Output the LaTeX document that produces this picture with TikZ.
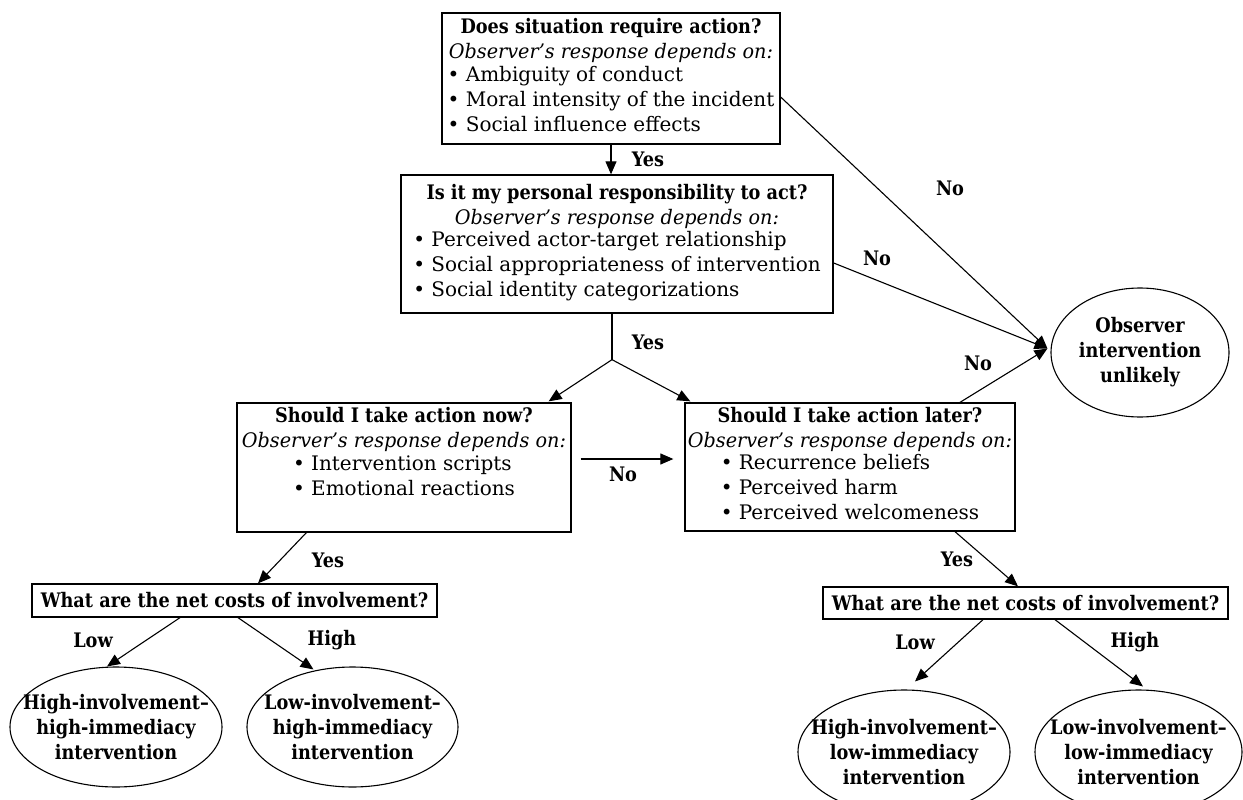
\documentclass[tikz,border=0pt]{standalone}
\usepackage{fontspec}
\setmainfont{DejaVu Serif}[BoldFeatures={FakeStretch=0.885},ItalicFeatures={FakeStretch=0.96}]
\usetikzlibrary{arrows.meta,shapes.geometric,calc}
\begin{document}
\begin{tikzpicture}[x=1pt,y=-1pt,
  every node/.style={font=\fontsize{20}{25}\selectfont},
  box/.style={draw, line width=1.3pt, inner sep=0pt, align=center},
  oval/.style={draw, ellipse, line width=1.1pt, inner xsep=-30pt, inner ysep=0pt, align=center, font=\fontsize{20}{25}\selectfont\bfseries},
  lbl/.style={font=\fontsize{20}{25}\selectfont\bfseries, inner sep=0pt},
  arr/.style={line width=1.1pt, -{Triangle[length=13pt,width=11pt]}},
  ln/.style={line width=1.1pt}]
\useasboundingbox (0,0) rectangle (1243,800);
\clip (0,0) rectangle (1243,800);

% question boxes
\node[box, minimum width=338pt, minimum height=131pt] (q1) at (611,78.5)
  {\textbf{Does situation require action?}\\
   \textit{Observer’s response depends on:}\\
   \begin{tabular}{@{}l@{}}• Ambiguity of conduct\\ • Moral intensity of the incident\\ • Social influence effects\end{tabular}};
\node[box, minimum width=432pt, minimum height=138pt] (q2) at (617,244)
  {\textbf{Is it my personal responsibility to act?}\\
   \textit{Observer’s response depends on:}\\
   \begin{tabular}{@{}l@{}}• Perceived actor-target relationship\\ • Social appropriateness of intervention\\ • Social identity categorizations\end{tabular}};
\node[box, minimum width=334pt, minimum height=129pt] (q3) at (404,467.5)
  {\textbf{Should I take action now?}\\
   \textit{Observer’s response depends on:}\\
   \begin{tabular}{@{}l@{}}• Intervention scripts\\ • Emotional reactions\\ \mbox{}\end{tabular}};
\node[box, minimum width=330pt, minimum height=128pt] (q4) at (850,467)
  {\textbf{Should I take action later?}\\
   \textit{Observer’s response depends on:}\\
   \begin{tabular}{@{}l@{}}• Recurrence beliefs\\ • Perceived harm\\ • Perceived welcomeness\end{tabular}};
\node[box, minimum width=405pt, minimum height=33pt] (c1) at (234.5,600.5)
  {\textbf{What are the net costs of involvement?}};
\node[box, minimum width=405pt, minimum height=32pt] (c2) at (1025.5,603)
  {\textbf{What are the net costs of involvement?}};

% outcome ellipses
\node[oval, minimum width=178pt, minimum height=129pt] (obs) at (1140,352.5)
  {Observer\\ intervention\\ unlikely};
\node[oval, minimum width=212pt, minimum height=120pt] (e1) at (116,727)
  {High-involvement–\\ high-immediacy\\ intervention};
\node[oval, minimum width=211pt, minimum height=120pt] (e2) at (352.5,727)
  {Low-involvement–\\ high-immediacy\\ intervention};
\node[oval, minimum width=212pt, minimum height=124pt] (e3) at (904,752)
  {High-involvement–\\ low-immediacy\\ intervention};
\node[oval, minimum width=207pt, minimum height=124pt] (e4) at (1138.5,752)
  {Low-involvement–\\ low-immediacy\\ intervention};

% connectors
\coordinate (br) at ($(q2.south)+(-5,46)$);
\coordinate (obsin) at ($(obs.west)+(-3,-4)$);

\draw[arr] (q1.south) -- (q1.south |- q2.north);
\draw[arr] ($(q1.east)+(0,18.5)$) -- (obsin);
\draw[arr] ($(q2.east)+(0,19)$) -- (obsin);
\draw[ln] ($(q2.south)+(-5,0)$) -- (br);
\draw[arr] (br) -- ($(q3.north east)+(-23,-1)$);
\draw[arr] (br) -- ($(q4.north west)+(6,-1)$);
\draw[arr] ($(q3.east)+(9,-8.5)$) -- ($(q4.west)+(-11,-8)$);
\draw[arr] ($(q4.north)+(110,0)$) -- (obsin);
\draw[arr] ($(q3.south west)+(70,0)$) -- ($(c1.north)+(23.5,0)$);
\draw[arr] ($(c1.south)+(-54.5,0)$) -- ($(e1.north)+(-9,0)$);
\draw[arr] ($(c1.south)+(3.5,0)$) -- ($(e2.north)+(-39,3)$);
\draw[arr] ($(q4.south)+(105,0)$) -- ($(c2.north)+(-7.5,0)$);
\draw[arr] ($(c2.south)+(-42.5,0)$) -- ($(e3.north)+(11,-8)$);
\draw[arr] ($(c2.south)+(29.5,0)$) -- ($(e4.north)+(4.5,-3)$);

% labels
\node[lbl] (l1) at (648,159) {Yes};
\node[lbl] (l2) at (950,188) {No};
\node[lbl] (l3) at (877,258) {No};
\node[lbl] (l4) at (648,342) {Yes};
\node[lbl] (l5) at (978,363) {No};
\node[lbl] (l6) at (623,474) {No};
\node[lbl] (l7) at (328,560) {Yes};
\node[lbl] (l8) at (93,640) {Low};
\node[lbl] (l9) at (332,640) {High};
\node[lbl] (l10) at (957,559) {Yes};
\node[lbl] (l11) at (915,642) {Low};
\node[lbl] (l12) at (1135,642) {High};
\end{tikzpicture}
\end{document}
